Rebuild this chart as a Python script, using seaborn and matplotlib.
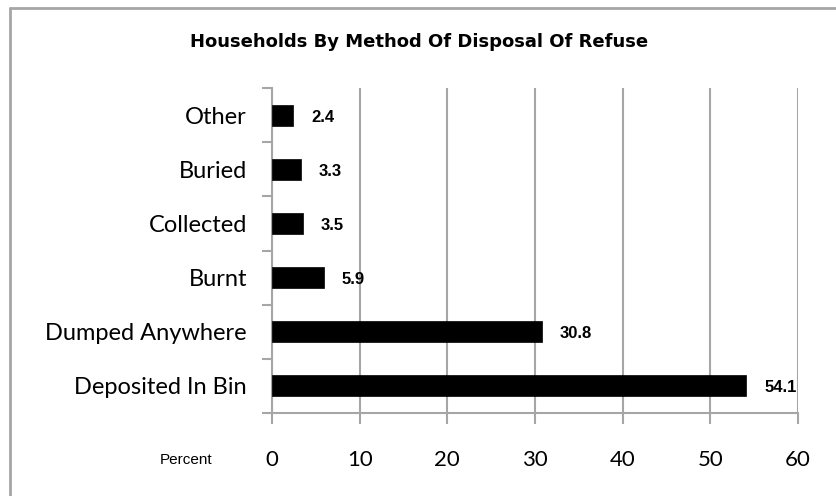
import matplotlib
matplotlib.use("Agg")
import matplotlib.pyplot as plt
from matplotlib.lines import Line2D
import seaborn as sns
import pandas as pd

categories = ["Other", "Buried", "Collected", "Burnt", "Dumped Anywhere", "Deposited In Bin"]
percent = [2.4, 3.3, 3.5, 5.9, 30.8, 54.1]
x_ticks = [0, 10, 20, 30, 40, 50, 60]

df = pd.DataFrame({"method": categories, "percent": percent})

sns.set_theme(style="white")
plt.rcParams["font.family"] = ["Lato", "DejaVu Sans"]

GRAY = "#a6a6a6"

fig = plt.figure(figsize=(8.36, 4.96), dpi=100)
ax = fig.add_axes([272 / 836, 1 - 413 / 496, (798 - 272) / 836, (413 - 88) / 496])

sns.barplot(data=df, x="percent", y="method", order=categories, orient="h",
            color="black", width=0.39, saturation=1, ax=ax, zorder=3)
for p in ax.patches:
    p.set_edgecolor("black")
    p.set_linewidth(0.5)

ax.set_xlim(0, 60)
ax.set_ylim(5.5, -0.5)
ax.set_xticks(x_ticks)
ax.grid(axis="x", color=GRAY, linewidth=1.5, zorder=0)
ax.grid(axis="y", visible=False)
for side in ["top", "right"]:
    ax.spines[side].set_visible(False)
for side in ["left", "bottom"]:
    ax.spines[side].set_color(GRAY)
    ax.spines[side].set_linewidth(1.5)

ax.set_xlabel("")
ax.set_ylabel("")
ax.tick_params(axis="x", length=8, width=1.5, color=GRAY, pad=19, labelsize=16,
               direction="out", bottom=True)
ax.tick_params(axis="y", length=0, pad=18, labelsize=17)
ax.set_yticks([i - 0.5 for i in range(len(categories) + 1)], minor=True)
ax.tick_params(axis="y", which="minor", length=7, width=1.5, color=GRAY, left=True)
for lbl in ax.get_xticklabels() + ax.get_yticklabels():
    lbl.set_color("black")

for i, v in enumerate(percent):
    ax.annotate(f"{v:.1f}", xy=(v, i), xytext=(13, -1.5), textcoords="offset points",
                ha="left", va="center", fontsize=12, fontweight="bold",
                family=["Liberation Sans", "DejaVu Sans"],
                color="black", annotation_clip=False)

fig.text(186 / 836, 1 - 460 / 496, "Percent", ha="center", va="center", fontsize=11,
         family=["Liberation Sans", "DejaVu Sans"], color="black")
fig.text(419 / 836, 1 - 47 / 496, "Households By Method Of Disposal Of Refuse",
         ha="center", va="baseline", fontsize=13, fontweight="bold",
         family=["DejaVu Sans"], color="black")

# chart frame
fig.add_artist(Line2D([10 / 836, 1], [1 - 8 / 496, 1 - 8 / 496], transform=fig.transFigure,
                      color=GRAY, linewidth=2))
fig.add_artist(Line2D([10 / 836, 10 / 836], [0, 1 - 8 / 496], transform=fig.transFigure,
                      color=GRAY, linewidth=2))

fig.savefig("out.png", dpi=100)
